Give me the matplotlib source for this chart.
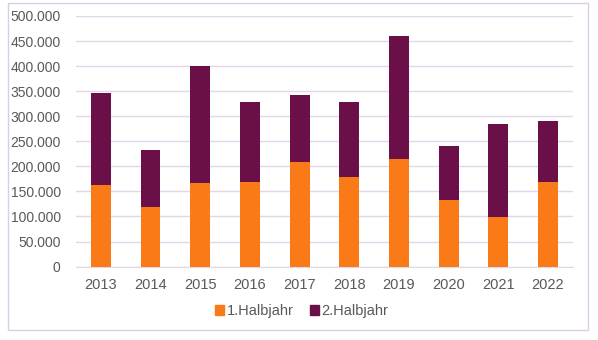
import matplotlib.pyplot as plt
from matplotlib.patches import Patch, Rectangle
from matplotlib.ticker import FuncFormatter

plt.rcParams['font.family'] = ['Liberation Sans', 'DejaVu Sans']

# values
jahre = ['2013', '2014', '2015', '2016', '2017', '2018', '2019', '2020', '2021', '2022']
erstes_halbjahr = [163000, 119000, 166000, 168000, 208000, 178000, 214000, 132000, 99000, 168000]
gesamt = [347000, 232000, 401000, 329000, 343000, 329000, 461000, 240000, 285000, 291000]
zweites_halbjahr = [g - e for g, e in zip(gesamt, erstes_halbjahr)]

orange = '#FA7A17'
lila = '#6A0F48'
textfarbe = '#595959'
gitter = '#E3D6EA'

fig = plt.figure(figsize=(5.98, 3.4), dpi=100)
ax = fig.add_axes([0.127, 0.216, 0.831, 0.737])

x = range(len(jahre))
ax.bar(x, erstes_halbjahr, width=0.4, color=orange, zorder=3)
ax.bar(x, zweites_halbjahr, width=0.4, bottom=erstes_halbjahr, color=lila, zorder=3)

ax.set_xlim(-0.5, len(jahre) - 0.5)
ax.set_ylim(0, 500000)
ax.set_yticks(range(0, 500001, 50000))
ax.yaxis.set_major_formatter(FuncFormatter(lambda v, p: f'{int(v):,}'.replace(',', '.')))
ax.set_xticks(list(x))
ax.set_xticklabels(jahre)

ax.grid(axis='y', color=gitter, linewidth=1, zorder=0)
for s in ['top', 'right', 'left']:
    ax.spines[s].set_visible(False)
ax.spines['bottom'].set_color(gitter)
ax.tick_params(axis='both', length=0, colors=textfarbe)
ax.tick_params(axis='y', pad=11, labelsize=10)
ax.tick_params(axis='x', pad=8, labelsize=10.5)

handles = [Patch(color=orange, label='1.Halbjahr'), Patch(color=lila, label='2.Halbjahr')]
fig.legend(handles=handles, loc='center', bbox_to_anchor=(0.505, 0.085), ncol=2,
           frameon=False, handlelength=0.6, handleheight=0.6, handletextpad=0.2,
           columnspacing=1.1, fontsize=10.5, labelcolor=textfarbe)

fig.patches.append(Rectangle((0.0134, 0.029), 0.97, 0.962, transform=fig.transFigure,
                             fill=False, edgecolor='#DCCDE4', linewidth=1))

fig.savefig('out.png', dpi=100)
